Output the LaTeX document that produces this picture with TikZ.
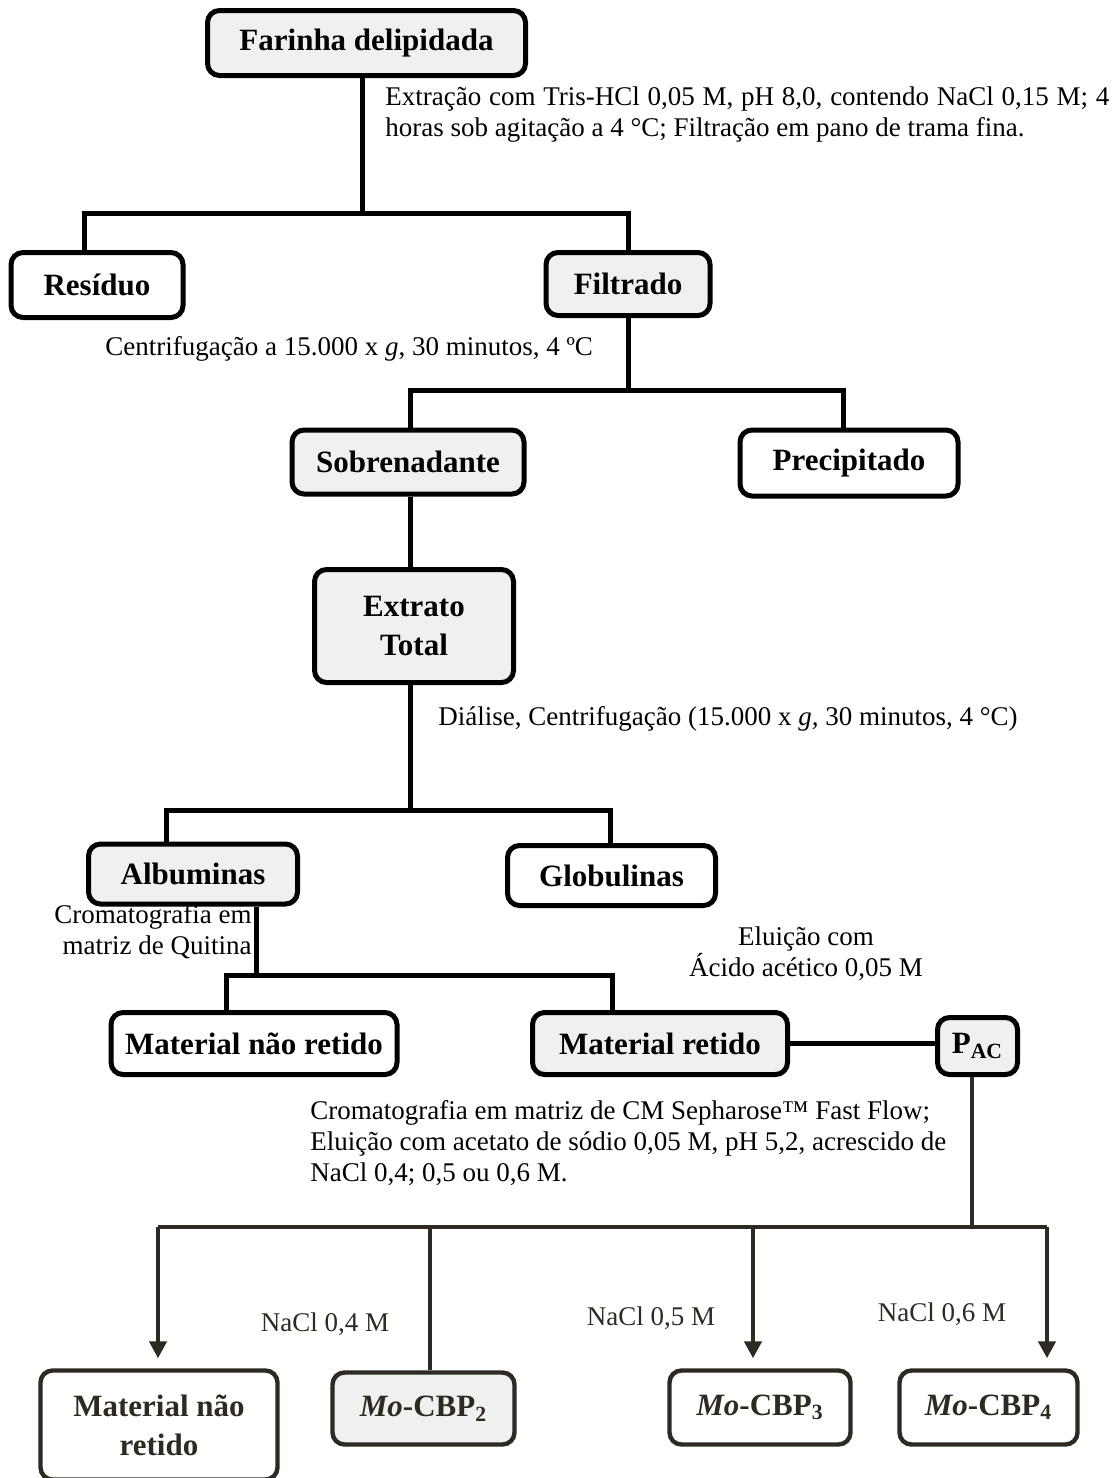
\documentclass[tikz,border=0pt]{standalone}
\usepackage{fontspec}
\setmainfont{Liberation Serif}
\usetikzlibrary{arrows.meta}
\definecolor{boxgray}{RGB}{240,240,240}
\definecolor{dk}{RGB}{46,42,34}
\begin{document}
\begin{tikzpicture}[x=0.5pt,y=-0.5pt,
  box/.style={draw, line width=2.5pt, rounded corners=6pt, font=\fontsize{15.5}{19.5}\selectfont\bfseries, align=center, inner sep=0pt},
  gbox/.style={box, fill=boxgray},
  dbox/.style={box, draw=dk, text=dk, line width=2.2pt},
  conn/.style={line width=2.5pt},
  dconn/.style={line width=2.2pt, draw=dk},
  arr/.style={dconn, -{Triangle[width=8.5pt,length=8.5pt]}, shorten >=5pt},
  lbl/.style={font=\fontsize{13.5}{15.5}\selectfont, inner sep=0pt},
  dlbl/.style={lbl, text=dk}]
\useasboundingbox (0,0) rectangle (1113,1478);
\clip (0,0) rectangle (1113,1478);
\fill[white] (0,0) rectangle (1113,1478);

% boxes
\node[gbox, minimum width=159pt, minimum height=32.5pt] (farinha) at (366.5,43) {Farinha delipidada};
\node[box, minimum width=86pt, minimum height=32.5pt] (residuo) at (97,285) {Resíduo};
\node[gbox, minimum width=82pt, minimum height=31.5pt] (filtrado) at (628,284) {Filtrado};
\node[gbox, minimum width=116pt, minimum height=32pt] (sobre) at (408,462) {Sobrenadante};
\node[box, minimum width=109pt, minimum height=33pt] (precip) at (849,463) {Precipitado};
\node[gbox, minimum width=99.5pt, minimum height=56.5pt] (extrato) at (414,626) {Extrato\\Total};
\node[gbox, minimum width=104.5pt, minimum height=30pt] (album) at (193,874) {Albuminas};
\node[box, minimum width=104pt, minimum height=30pt] (glob) at (611.5,875.5) {Globulinas};
\node[box, minimum width=143pt, minimum height=31pt] (mnr1) at (254,1043.5) {Material não retido};
\node[gbox, minimum width=127.5pt, minimum height=31pt] (mret) at (660,1043.5) {Material retido};
\node[gbox, minimum width=40pt, minimum height=28.5pt] (pac) at (977.5,1046) {P\textsubscript{AC}};
\node[dbox, minimum width=118.5pt, minimum height=54.5pt] (mnr2) at (159,1425) {Material não\\retido};
\node[dbox, fill=boxgray, minimum width=91pt, minimum height=36pt] (cbp2) at (423.5,1408.5) {\textit{Mo}-CBP\textsubscript{2}};
\node[dbox, minimum width=90.5pt, minimum height=37pt] (cbp3) at (760,1407.5) {\textit{Mo}-CBP\textsubscript{3}};
\node[dbox, minimum width=89pt, minimum height=37pt] (cbp4) at (988.5,1407.5) {\textit{Mo}-CBP\textsubscript{4}};

% labels
\node[lbl, anchor=north west, align=left] (t1) at (385,86) {\hbox to 362pt{Extração com Tris-HCl 0,05 M, pH 8,0, contendo NaCl 0,15 M; 4}\\horas sob agitação a 4 °C; Filtração em pano de trama fina.};
\node[lbl, anchor=west] (t2) at (105,349) {Centrifugação a 15.000 x \textit{g}, 30 minutos, 4 ºC};
\node[lbl, anchor=west] (t3) at (438,719) {Diálise, Centrifugação (15.000 x \textit{g,} 30 minutos, 4 °C)};
\node[lbl, anchor=east, align=right] (t4) at (252,932) {Cromatografia em\\matriz de Quitina};
\node[lbl, align=center] (t5) at (806,954) {Eluição com\\Ácido acético 0,05 M};
\node[lbl, anchor=north west, align=left] (t6) at (310,1100) {Cromatografia em matriz de CM Sepharose™ Fast Flow;\\Eluição com acetato de sódio 0,05 M, pH 5,2, acrescido de\\NaCl 0,4; 0,5 ou 0,6 M.};
\node[dlbl] (n4) at (325,1324) {NaCl 0,4 M};
\node[dlbl] (n5) at (651,1318) {NaCl 0,5 M};
\node[dlbl] (n6) at (942,1314) {NaCl 0,6 M};

% connectors
\coordinate (a0) at (362,213);
\coordinate (a1) at (84,213);
\coordinate (a2) at (628,213);
\draw[conn] (farinha.south -| a0) -- (a0);
\draw[conn] (a1 |- residuo.north) -- (a1) -- (a2) -- (filtrado.north);

\coordinate (b1) at (410,390);
\coordinate (b2) at (843,390);
\draw[conn] (filtrado.south) -- (filtrado.south |- b1);
\draw[conn] (b1 |- sobre.north) -- (b1) -- (b2) -- (b2 |- precip.north);

\draw[conn] (b1 |- sobre.south) -- (b1 |- extrato.north);

\coordinate (c0) at (410,810);
\coordinate (c1) at (166,810);
\coordinate (c2) at (610,810);
\draw[conn] (c0 |- extrato.south) -- (c0);
\draw[conn] (c1 |- album.north) -- (c1) -- (c2) -- (c2 |- glob.north);

\coordinate (d0) at (256,975);
\coordinate (d1) at (226,975);
\coordinate (d2) at (612,975);
\draw[conn] (d0 |- album.south) -- (d0);
\draw[conn] (d1 |- mnr1.north) -- (d1) -- (d2) -- (d2 |- mret.north);

\draw[conn] (mret.east) -- (mret.east -| pac.west);

\coordinate (e0) at (972,1227);
\coordinate (e1) at (158,1227);
\coordinate (e2) at (430,1227);
\coordinate (e3) at (753,1227);
\coordinate (e4) at (1047,1227);
\draw[dconn] (e0 |- pac.south) -- (e0);
\draw[dconn] (e1) -- (e4);
\draw[arr] (e1) -- (e1 |- mnr2.north);
\draw[dconn] (e2) -- (e2 |- cbp2.north);
\draw[arr] (e3) -- (e3 |- cbp3.north);
\draw[arr] (e4) -- (e4 |- cbp4.north);
\end{tikzpicture}
\end{document}
